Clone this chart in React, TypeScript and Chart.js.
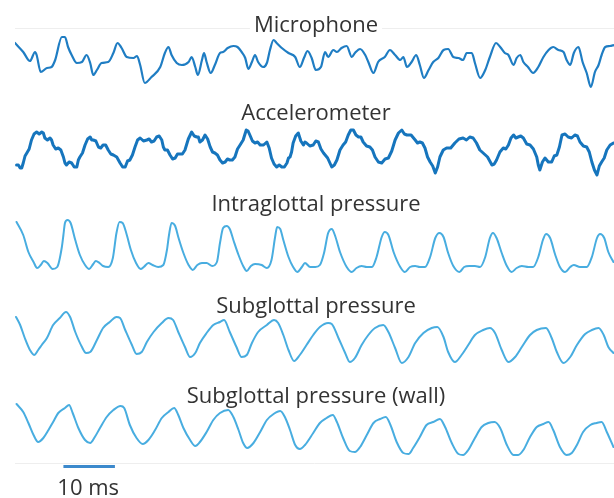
import { useEffect, useRef } from "react";
import { Chart, registerables } from "chart.js";

Chart.register(...registerables);

// ---- Data (time in ms, amplitude in arbitrary units) ----
const traceTitles = [
  "Microphone",
  "Accelerometer",
  "Intraglottal pressure",
  "Subglottal pressure",
  "Subglottal pressure (wall)",
];
const timeMaxMs = 116.3;
const scaleBarStartMs = 9.4;
const scaleBarLengthMs = 10;
const scaleBarLabel = "10 ms";

const micTime = [
  0, 1.6, 2.9, 3.9, 4.2, 5.0, 6.2, 7.1, 7.8, 9.1,
  9.7, 10.3, 11.0, 12.0, 13.0, 13.9, 14.6, 15.2, 15.9, 16.8,
  18.1, 19.1, 19.9, 20.7, 21.7, 23.0, 23.7, 24.3, 25.2, 26.5,
  28.2, 29.1, 29.8, 30.4, 31.4, 32.4, 33.7, 34.3, 35.0, 35.5,
  36.3, 36.7, 37.2, 38.0, 38.8, 39.8, 40.4, 41.3, 42.4, 43.2,
  44.0, 44.7, 45.3, 46.0, 46.6, 47.2, 48.2, 48.9, 49.5, 50.2,
  50.8, 51.8, 53.1, 54.4, 55.3, 56.1, 56.8, 57.6, 58.4, 59.4,
  60.2, 60.8, 61.8, 62.5, 63.4, 64.4, 65.4, 66.0, 67.0, 68.0,
  68.6, 69.6, 70.5, 71.8, 72.8, 73.8, 74.8, 75.4, 76.1, 77.0,
  77.9, 78.6, 79.4, 80.3, 81.2, 82.2, 83.2, 84.1, 85.1, 86.1,
  87.0, 87.7, 88.7, 89.3, 90.3, 91.3, 92.2, 93.4, 94.2, 95.1,
  95.8, 96.8, 97.4, 98.1, 98.7, 99.6, 100.6, 101.6, 102.6, 103.6,
  104.5, 105.5, 106.5, 107.1, 107.8, 108.5, 109.4, 110.2, 111.0, 111.8,
  112.6, 113.3, 113.9, 114.6, 115.5, 116.3,
];
const micValue = [
  72, 63, 54, 63, 60, 43, 47, 48, 55, 78,
  78, 68, 60, 52, 53, 60, 52, 40, 45, 52,
  53, 62, 72, 67, 58, 57, 59, 50, 32, 38,
  48, 62, 68, 60, 52, 50, 53, 58, 48, 40,
  55, 62, 53, 42, 50, 62, 63, 67, 69, 68,
  63, 57, 46, 53, 60, 53, 48, 52, 65, 75,
  72, 67, 62, 58, 48, 57, 64, 57, 45, 48,
  63, 58, 65, 63, 67, 69, 58, 62, 66, 60,
  53, 42, 53, 58, 65, 60, 55, 58, 48, 53,
  60, 50, 37, 45, 53, 57, 65, 66, 58, 57,
  55, 62, 62, 52, 37, 45, 58, 72, 68, 62,
  60, 50, 57, 60, 53, 48, 42, 48, 58, 65,
  68, 65, 63, 55, 50, 62, 68, 53, 42, 28,
  43, 50, 60, 68, 69, 70,
];

const accTime = [
  0.3, 0.65, 1.0, 1.3, 1.6, 1.95, 2.3, 2.75, 3.2, 3.7,
  4.2, 4.7, 5.2, 5.5, 5.8, 6.3, 6.8, 7.1, 7.4, 7.9,
  8.4, 8.9, 9.4, 9.7, 10.0, 10.5, 11.0, 11.5, 12.0, 12.3,
  12.6, 13.1, 13.6, 14.1, 14.6, 14.9, 15.2, 15.7, 16.2, 16.65,
  17.1, 17.6, 18.1, 18.6, 19.1, 19.75, 20.4, 20.9, 21.4, 21.85,
  22.3, 22.8, 23.3, 23.8, 24.3, 24.95, 25.6, 26.05, 26.5, 27.0,
  27.5, 28.0, 28.5, 28.8, 29.1, 29.6, 30.1, 30.6, 31.1, 31.55,
  32.0, 32.5, 33.0, 33.65, 34.3, 34.8, 35.3, 35.6, 35.9, 36.4,
  36.9, 37.4, 37.9, 38.35, 38.8, 39.3, 39.8, 40.3, 40.8, 41.25,
  41.7, 42.2, 42.7, 43.2, 43.7, 44.3, 44.9, 45.25, 45.6, 46.1,
  46.6, 47.1, 47.6, 48.25, 48.9, 49.35, 49.8, 50.3, 50.8, 51.3,
  51.8, 52.3, 52.8, 53.1, 53.4, 53.7, 54.0, 54.5, 55.0, 55.5,
  56.0, 56.3, 56.6, 57.25, 57.9, 58.4, 58.9, 59.4, 59.9, 60.7,
  61.5, 62.0, 62.5, 63.1, 63.7, 64.2, 64.7, 65.2, 65.7, 66.2,
  66.7, 67.15, 67.6, 68.25, 68.9, 69.4, 69.9, 70.55, 71.2, 71.85,
  72.5, 73.15, 73.8, 74.45, 75.1, 75.6, 76.1, 76.9, 77.7, 78.15,
  78.6, 79.1, 79.6, 80.1, 80.6, 81.1, 81.6, 82.05, 82.5, 83.15,
  83.8, 84.6, 85.4, 86.2, 87.0, 87.65, 88.3, 88.95, 89.6, 90.25,
  90.9, 91.75, 92.6, 93.05, 93.5, 94.15, 94.8, 95.3, 95.8, 96.3,
  96.8, 97.25, 97.7, 98.2, 98.7, 99.35, 100.0, 100.65, 101.3, 101.6,
  101.9, 102.4, 102.9, 103.55, 104.2, 104.7, 105.2, 105.7, 106.2, 106.8,
  107.4, 108.05, 108.7, 109.2, 109.7, 110.35, 111.0, 111.5, 112.0, 112.5,
  113.0, 113.45, 113.9, 114.4, 114.9, 115.55, 116.2,
];
const accValue = [
  37, 37, 34, 34, 39, 46, 49, 53, 62, 68,
  70, 68, 70, 69, 64, 62, 64, 62, 57, 53,
  54, 52, 45, 39, 37, 40, 39, 35, 35, 42,
  45, 49, 57, 63, 65, 62, 62, 61, 55, 54,
  57, 57, 52, 48, 47, 45, 39, 35, 35, 41,
  42, 47, 55, 62, 64, 61, 62, 63, 60, 61,
  65, 66, 62, 55, 52, 52, 47, 43, 44, 48,
  48, 48, 52, 63, 70, 66, 65, 65, 60, 62,
  67, 63, 55, 50, 49, 47, 42, 39, 40, 43,
  42, 42, 45, 53, 57, 62, 72, 71, 67, 61,
  59, 60, 57, 57, 60, 54, 44, 38, 35, 37,
  35, 35, 39, 44, 45, 50, 59, 66, 69, 61,
  57, 60, 59, 56, 57, 61, 60, 53, 49, 44,
  35, 37, 42, 52, 57, 60, 67, 72, 72, 67,
  65, 65, 60, 56, 55, 52, 45, 40, 39, 43,
  44, 51, 62, 69, 72, 68, 67, 67, 62, 59,
  60, 59, 54, 45, 40, 36, 29, 35, 45, 52,
  54, 54, 59, 63, 64, 62, 65, 64, 59, 52,
  49, 45, 37, 38, 42, 50, 54, 53, 57, 64,
  67, 64, 65, 66, 64, 58, 57, 53, 45, 37,
  32, 40, 44, 40, 40, 46, 47, 55, 67, 68,
  65, 64, 67, 66, 60, 56, 55, 50, 40, 32,
  27, 36, 40, 44, 52, 57, 59,
];

const intraTime = [
  0.3, 1.6, 2.6, 3.6, 4.3, 5.0, 5.6, 6.3, 7.3, 8.2,
  9.1, 9.4, 9.7, 10.2, 10.8, 11.7, 12.6, 13.6, 14.4, 15.2,
  15.7, 16.4, 17.1, 18.1, 19.0, 19.7, 20.3, 20.9, 21.6, 22.5,
  23.5, 24.4, 25.0, 25.9, 26.7, 27.8, 28.8, 29.5, 29.9, 30.4,
  31.1, 31.7, 32.7, 33.7, 34.5, 35.4, 36.3, 37.2, 38.3, 39.2,
  39.8, 40.4, 41.1, 41.7, 42.4, 43.4, 44.3, 45.0, 45.8, 46.6,
  47.9, 48.9, 49.8, 50.5, 50.9, 51.5, 52.1, 53.1, 54.0, 54.8,
  55.7, 56.3, 57.3, 58.3, 59.2, 60.0, 60.8, 61.5, 62.1, 63.1,
  64.4, 65.4, 66.3, 67.3, 68.3, 69.3, 70.2, 71.2, 71.8, 72.5,
  73.5, 74.8, 75.7, 76.7, 77.7, 78.6, 79.6, 80.6, 81.6, 82.4,
  83.2, 84.1, 85.1, 86.3, 87.2, 88.2, 89.3, 90.3, 91.3, 92.2,
  92.8, 93.5, 94.5, 95.5, 96.4, 97.4, 98.4, 99.7, 100.6, 101.6,
  102.5, 103.1, 103.9, 104.9, 105.8, 106.8, 107.8, 108.5, 109.7, 111.0,
  112.0, 113.0, 113.6, 114.4, 115.2, 116.2,
];
const intraValue = [
  67, 54, 37, 27, 21, 24, 28, 26, 20, 22,
  42, 54, 66, 69, 66, 49, 34, 24, 20, 25,
  28, 26, 23, 22, 31, 56, 67, 66, 56, 39,
  26, 20, 22, 26, 24, 22, 24, 39, 54, 66,
  63, 52, 36, 24, 19, 24, 26, 26, 23, 27,
  46, 61, 63, 60, 49, 34, 23, 18, 23, 25,
  24, 21, 29, 52, 62, 60, 49, 32, 22, 17,
  22, 26, 22, 22, 24, 36, 56, 60, 54, 37,
  22, 17, 21, 23, 22, 22, 32, 52, 57, 54,
  37, 22, 17, 22, 23, 22, 22, 32, 51, 56,
  52, 36, 23, 17, 22, 23, 23, 22, 32, 51,
  56, 51, 36, 23, 17, 21, 23, 22, 22, 32,
  49, 55, 51, 34, 22, 17, 22, 24, 22, 22,
  32, 51, 55, 51, 37, 27,
];

const subTime = [
  0.2, 1.0, 1.9, 2.9, 3.7, 4.5, 5.2, 6.2, 7.4, 8.7,
  9.9, 10.7, 11.7, 13.0, 13.8, 14.6, 15.9, 17.1, 18.4, 19.7,
  20.4, 21.4, 22.7, 23.6, 24.6, 25.6, 26.9, 28.5, 29.8, 30.7,
  31.7, 33.0, 34.0, 35.0, 35.9, 37.2, 38.5, 39.8, 40.6, 41.7,
  43.0, 44.0, 45.0, 46.0, 47.2, 48.9, 50.3, 51.1, 52.1, 53.1,
  54.2, 55.3, 56.6, 57.9, 59.2, 60.8, 61.5, 62.8, 64.1, 65.0,
  66.0, 67.3, 68.6, 69.9, 71.5, 72.5, 73.8, 75.1, 76.4, 77.7,
  79.3, 80.9, 82.0, 83.2, 84.1, 85.4, 86.7, 88.0, 89.3, 90.9,
  92.2, 93.2, 94.5, 95.8, 97.1, 98.4, 100.0, 101.3, 103.1, 104.2,
  105.2, 106.5, 107.8, 109.1, 110.7, 112.0, 113.3, 114.3, 115.2, 116.2,
];
const subValue = [
  59, 51, 38, 26, 21, 26, 31, 38, 51, 58,
  64, 59, 44, 29, 23, 24, 36, 48, 54, 59,
  58, 46, 31, 22, 24, 34, 44, 53, 58, 56,
  44, 29, 19, 23, 33, 43, 51, 54, 56, 44,
  29, 19, 21, 33, 44, 51, 56, 53, 41, 26,
  15, 21, 31, 41, 49, 53, 52, 38, 23, 14,
  18, 31, 41, 48, 51, 44, 28, 13, 19, 33,
  43, 48, 49, 39, 24, 14, 21, 31, 41, 46,
  48, 43, 26, 14, 19, 29, 41, 46, 48, 38,
  24, 13, 19, 31, 42, 46, 48, 41, 29, 23,
];

const wallTime = [
  0.3, 1.6, 2.6, 3.6, 4.5, 5.5, 6.5, 7.4, 8.4, 9.7,
  10.5, 11.2, 12.3, 13.6, 14.6, 15.5, 16.5, 17.8, 19.1, 20.5,
  21.2, 22.3, 23.6, 24.8, 25.9, 27.2, 28.5, 29.8, 30.9, 31.7,
  32.7, 34.0, 35.0, 35.9, 37.2, 38.5, 39.8, 41.4, 42.4, 43.4,
  44.3, 45.1, 46.3, 47.6, 48.9, 50.2, 51.5, 52.4, 53.4, 54.4,
  55.3, 56.3, 57.9, 59.2, 60.5, 61.7, 62.5, 63.7, 65.0, 66.0,
  67.0, 68.3, 69.6, 70.9, 72.0, 72.9, 74.1, 75.4, 76.4, 77.3,
  78.6, 79.9, 81.2, 82.5, 83.5, 84.8, 86.1, 87.0, 88.0, 89.3,
  90.6, 91.9, 93.1, 94.2, 95.5, 96.8, 97.7, 98.7, 100.0, 101.3,
  102.6, 103.6, 104.5, 105.8, 107.1, 108.1, 109.1, 110.3, 111.7, 112.9,
  113.9, 114.9, 116.2,
];
const wallValue = [
  59, 51, 40, 28, 21, 25, 33, 41, 50, 55,
  58, 50, 35, 23, 20, 26, 35, 46, 53, 57,
  55, 38, 25, 19, 23, 33, 45, 51, 55, 48,
  35, 23, 17, 21, 31, 43, 50, 53, 46, 33,
  20, 15, 20, 31, 43, 49, 52, 46, 33, 18,
  14, 18, 30, 40, 45, 48, 41, 25, 12, 11,
  16, 28, 40, 44, 46, 38, 21, 10, 9, 15,
  26, 38, 41, 44, 36, 20, 9, 8, 13, 25,
  36, 40, 41, 35, 18, 8, 8, 13, 26, 36,
  39, 41, 33, 16, 8, 10, 18, 31, 38, 40,
  41, 31, 16,
];

// ---- Styles / layout ----
const traceColors = ["#1f7dc3", "#1675bd", "#48ade0", "#48ade0", "#48ade0"];
const traceWidths = [2.2, 3, 2, 2, 2];
const traceMonotone = [true, false, true, true, true];
const titleBaselines = [32, 120, 211, 313, 403];
const titleCenterX = 316;
const titleFont = "22px 'Open Sans', sans-serif";
const textColor = "#333333";

export default function App() {
  const canvasRef = useRef<HTMLCanvasElement | null>(null);

  useEffect(() => {
    const canvas = canvasRef.current;
    if (!canvas) return;

    const series = [
      { t: micTime, v: micValue },
      { t: accTime, v: accValue },
      { t: intraTime, v: intraValue },
      { t: subTime, v: subValue },
      { t: wallTime, v: wallValue },
    ];

    const datasets = series.map((s, i) => ({
      label: traceTitles[i],
      data: s.t.map((t, k) => ({ x: t, y: s.v[k] })),
      yAxisID: "y" + i,
      borderColor: traceColors[i],
      backgroundColor: traceColors[i],
      borderWidth: traceWidths[i],
      pointRadius: 0,
      tension: traceMonotone[i] ? 0.4 : 0,
      cubicInterpolationMode: traceMonotone[i] ? ("monotone" as const) : ("default" as const),
      fill: false,
      borderJoinStyle: "round" as const,
      borderCapStyle: "round" as const,
    }));

    const scales: any = {
      x: { type: "linear", min: 0, max: timeMaxMs, display: false },
    };
    for (let i = 0; i < series.length; i++) {
      scales["y" + i] = {
        type: "linear",
        position: "left",
        stack: "traces",
        stackWeight: 1,
        weight: series.length - i,
        min: 0,
        max: 87,
        display: false,
      };
    }

    const overlay = {
      id: "overlay",
      beforeDatasetsDraw(chart: any) {
        const { ctx, chartArea } = chart;
        ctx.save();
        ctx.font = titleFont;
        const w = ctx.measureText(traceTitles[0]).width;
        ctx.strokeStyle = "#eeeeee";
        ctx.lineWidth = 1;
        const top = Math.round(chartArea.top) + 0.5;
        const bottom = Math.round(chartArea.bottom) + 0.5;
        ctx.beginPath();
        ctx.moveTo(chartArea.left, top);
        ctx.lineTo(titleCenterX - w / 2 - 4, top);
        ctx.moveTo(titleCenterX + w / 2 + 4, top);
        ctx.lineTo(chartArea.right, top);
        ctx.moveTo(chartArea.left, bottom);
        ctx.lineTo(chartArea.right, bottom);
        ctx.stroke();
        ctx.restore();
      },
      afterDraw(chart: any) {
        const { ctx } = chart;
        const xScale = chart.scales.x;
        ctx.save();
        ctx.font = titleFont;
        ctx.fillStyle = textColor;
        ctx.textAlign = "center";
        ctx.textBaseline = "alphabetic";
        traceTitles.forEach((title, i) => {
          ctx.fillText(title, titleCenterX, titleBaselines[i]);
        });
        const x0 = xScale.getPixelForValue(scaleBarStartMs);
        const x1 = xScale.getPixelForValue(scaleBarStartMs + scaleBarLengthMs);
        ctx.strokeStyle = "#3c89cc";
        ctx.lineWidth = 3;
        ctx.beginPath();
        ctx.moveTo(x0, 466.5);
        ctx.lineTo(x1, 466.5);
        ctx.stroke();
        ctx.fillStyle = textColor;
        ctx.fillText(scaleBarLabel, (x0 + x1) / 2 - 1, 495);
        ctx.restore();
      },
    };

    const chart = new Chart(canvas, {
      type: "line",
      data: { datasets },
      options: {
        animation: false,
        responsive: true,
        maintainAspectRatio: false,
        layout: { padding: { left: 15, right: 0, top: 28, bottom: 35 } },
        plugins: {
          legend: { display: false },
          tooltip: { enabled: false },
          title: { display: false },
        },
        events: [],
        scales,
      },
      plugins: [overlay],
    } as any);

    return () => {
      chart.destroy();
    };
  }, []);

  return (
    <div
      style={{
        position: "fixed",
        left: 0,
        top: 0,
        width: 614,
        height: 498,
        background: "#ffffff",
      }}
    >
      <canvas ref={canvasRef} />
    </div>
  );
}
